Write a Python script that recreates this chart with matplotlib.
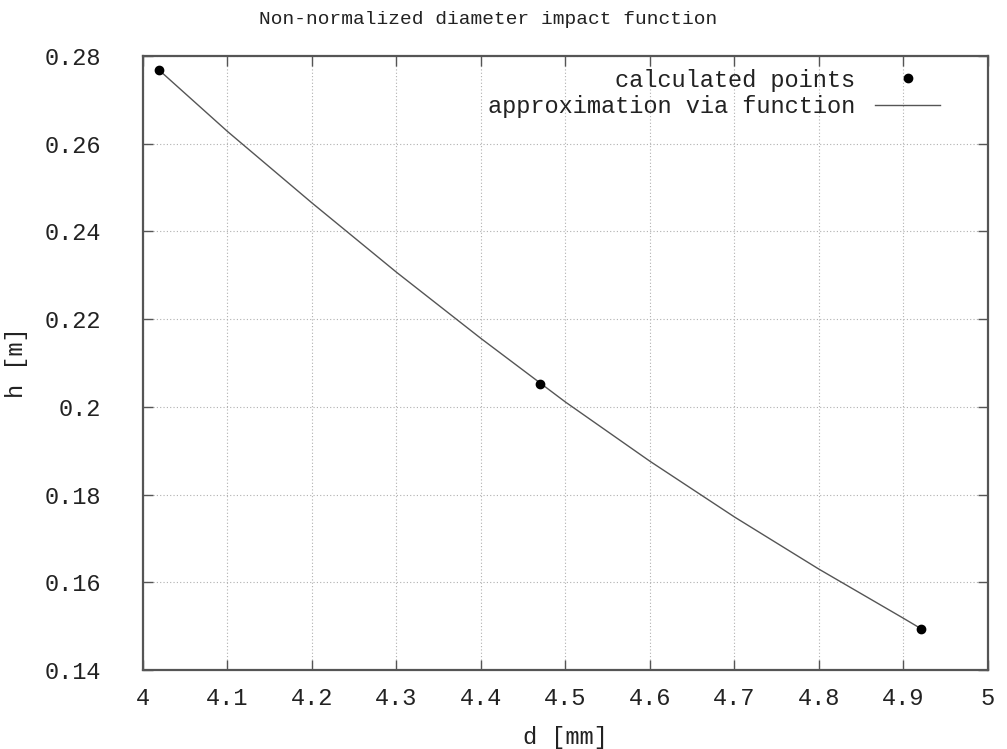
import matplotlib
matplotlib.use("Agg")
import matplotlib.pyplot as plt
from matplotlib.ticker import FixedLocator, FixedFormatter

# calculated points
pts_d = [4.019, 4.470, 4.921]
pts_h = [0.2768, 0.2052, 0.1494]

# approximation curve
fit_d = [4.019, 4.1, 4.2, 4.3, 4.4, 4.5, 4.6, 4.7, 4.8, 4.9, 4.921]
fit_h = [0.2768, 0.2628, 0.2465, 0.2307, 0.2156, 0.2011, 0.1876, 0.1749, 0.1630, 0.1518, 0.1494]

xticks = [4.0, 4.1, 4.2, 4.3, 4.4, 4.5, 4.6, 4.7, 4.8, 4.9, 5.0]
xlabels = ["4", "4.1", "4.2", "4.3", "4.4", "4.5", "4.6", "4.7", "4.8", "4.9", "5"]
yticks = [0.14, 0.16, 0.18, 0.20, 0.22, 0.24, 0.26, 0.28]
ylabels = ["0.14", "0.16", "0.18", "0.2", "0.22", "0.24", "0.26", "0.28"]

plt.rcParams['font.family'] = ['Liberation Mono', 'DejaVu Sans Mono']

fig = plt.figure(figsize=(10.07, 7.49), dpi=100)
ax = fig.add_axes([0.142, 0.1055, 0.839, 0.8197])

ax.plot(fit_d, fit_h, color='#555555', lw=1.0, label='approximation via function', zorder=3)
ax.plot(pts_d, pts_h, 'o', color='black', ms=6, label='calculated points', zorder=4)

ax.set_xlim(4.0, 5.0)
ax.set_ylim(0.14, 0.28)
ax.xaxis.set_major_locator(FixedLocator(xticks))
ax.xaxis.set_major_formatter(FixedFormatter(xlabels))
ax.yaxis.set_major_locator(FixedLocator(yticks))
ax.yaxis.set_major_formatter(FixedFormatter(ylabels))

ax.grid(True, color='#b0b0b0', linestyle=(0, (1, 2)), linewidth=0.8)
ax.tick_params(direction='in', length=7, width=1, color='#555555', top=True, right=True,
               labelsize=17, labelcolor='#222222')
ax.tick_params(axis='y', pad=30)
ax.tick_params(axis='x', pad=12)
for s in ax.spines.values():
    s.set_color('#555555')
    s.set_linewidth(1.6)

fig.text(488 / 1007, 1 - 20 / 749, 'Non-normalized diameter impact function', fontsize=14,
         color='#222222', ha='center', va='center')
ax.set_xlabel('d [mm]', fontsize=17, color='#222222', labelpad=12)
ax.set_ylabel('h [m]', fontsize=17, color='#222222', labelpad=12)

handles, labels = ax.get_legend_handles_labels()
leg = ax.legend(handles[::-1], labels[::-1], loc='upper right', bbox_to_anchor=(0.955, 0.995),
                frameon=False, markerfirst=False, fontsize=17, handlelength=2.75,
                handletextpad=0.85, labelspacing=0.15, borderaxespad=0)
for t in leg.get_texts():
    t.set_color('#222222')

fig.savefig('out.png', dpi=100)
